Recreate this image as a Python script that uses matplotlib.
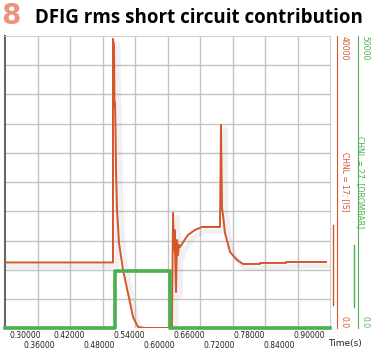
import matplotlib
matplotlib.use('Agg')
import matplotlib.pyplot as plt
import matplotlib.patheffects as pe
import numpy as np

# time axis (s)
x_ticks_top = [0.30, 0.42, 0.54, 0.66, 0.78, 0.90]
x_ticks_bot = [0.36, 0.48, 0.60, 0.72, 0.84]

# CHNL = 17: [IS]  (rms short circuit current)
t_is = [0.2906, 0.5071, 0.5071, 0.5091, 0.5102, 0.5112, 0.5122, 0.5132, 0.5152,
        0.5192, 0.5272, 0.5372, 0.5473, 0.5573, 0.5713, 0.6175, 0.6255, 0.6275,
        0.6295, 0.6305, 0.6315, 0.6335, 0.6355, 0.6375, 0.6395, 0.6415, 0.6575,
        0.6716, 0.6856, 0.7217, 0.7237, 0.7257, 0.7277, 0.7317, 0.7418, 0.7558,
        0.7678, 0.8019, 0.8019, 0.8540, 0.8540, 0.9342]
i_s = [9026, 9026, 39600, 38770, 30150, 30900, 27170, 21670, 16200,
       11690, 7990, 4850, 1570, 205, 70, 70, 70, 15800,
       10730, 13470, 11000, 4990, 12100, 10050, 11420, 11150, 12790,
       13480, 13880, 13880, 27830, 16480, 15520, 13060, 10460, 9370,
       8820, 8820, 8960, 8960, 9090, 9090]

# CHNL = 27: [DROMBAR]  (crowbar)
t_cb = [0.2906, 0.5111, 0.5111, 0.6214, 0.6214, 0.9423]
crowbar = [0, 0, 9800, 9800, 0, 0]

orange = '#d4562a'
green = '#4caf50'
tickfont = 'Liberation Sans Narrow'

fig = plt.figure(figsize=(3.71, 3.52), dpi=100)
fig.patch.set_facecolor('white')
ax = fig.add_axes([0.0135, 0.0668, 0.876, 0.831])

xmin, xmax = 0.2906, 0.9423
ax.set_xlim(xmin, xmax)
ax.set_ylim(0, 10)
for gx in np.linspace(xmin, xmax, 11)[1:-1]:
    ax.axvline(gx, color='#c4c4c4', lw=1.0, zorder=0)
for gy in range(1, 10):
    ax.axhline(gy, color='#c4c4c4', lw=1.0, zorder=0)
ax.set_yticks([])
ax.set_xticks(x_ticks_top)
ax.set_xticklabels(['%.5f' % v for v in x_ticks_top], family=tickfont)
ax.set_xticks(x_ticks_bot, minor=True)
ax.set_xticklabels(['%.5f' % v for v in x_ticks_bot], minor=True, family=tickfont)
ax.tick_params(axis='x', which='major', length=0, pad=2, labelsize=5.5, labelcolor='#222222')
ax.tick_params(axis='x', which='minor', length=0, pad=9, labelsize=5.5, labelcolor='#222222')
ax.get_xticklabels()[0].set_ha('left')
for s in ['top', 'right']:
    ax.spines[s].set_color('#d0d0d0')
ax.spines['bottom'].set_visible(False)
ax.spines['left'].set_color('#666666')
ax.spines['left'].set_linewidth(1.5)

shadow = [pe.SimpleLineShadow(offset=(3, -3), shadow_color='#888888', alpha=0.12, linewidth=3.5),
          pe.Normal()]

ax2 = ax.twinx()
ax2.set_ylim(0, 40000)
ax2.plot(t_is, i_s, color=orange, lw=1.4, path_effects=shadow, zorder=3)
ax2.spines['right'].set_position(('axes', 1.02))
ax2.spines['right'].set_color(orange)
for s in ['top', 'left', 'bottom']:
    ax2.spines[s].set_visible(False)
ax2.set_yticks([0, 40000])
ax2.set_yticklabels(['0.0', '40000'], rotation=-90, family=tickfont)
ax2.get_yticklabels()[0].set_va('bottom')
ax2.get_yticklabels()[1].set_va('top')
ax2.tick_params(axis='y', length=0, pad=2, labelsize=5.5, labelcolor=orange)
ax2.set_ylabel('CHNL = 17: [IS]', rotation=-90, color=orange, fontsize=5.5,
               labelpad=1, family=tickfont)
# current-value cursor bar
ax2.plot([1.009, 1.009], [0.08, 0.354], transform=ax2.transAxes, color=orange,
         lw=1.0, clip_on=False)

ax3 = ax.twinx()
ax3.set_ylim(0, 50000)
ax3.plot(t_cb, crowbar, color=green, lw=2.6, zorder=4, clip_on=False)
ax3.spines['right'].set_position(('axes', 1.085))
ax3.spines['right'].set_color(green)
for s in ['top', 'left', 'bottom']:
    ax3.spines[s].set_visible(False)
ax3.set_yticks([0, 50000])
ax3.set_yticklabels(['0.0', '50000'], rotation=-90, family=tickfont)
ax3.get_yticklabels()[0].set_va('bottom')
ax3.get_yticklabels()[1].set_va('top')
ax3.tick_params(axis='y', length=0, pad=2, labelsize=5.5, labelcolor=green)
ax3.set_ylabel('CHNL = 27: [DROMBAR]', rotation=-90, color=green, fontsize=5.5,
               labelpad=-3, family=tickfont)
ax3.plot([1.074, 1.074], [0.073, 0.285], transform=ax3.transAxes, color=green,
         lw=1.0, clip_on=False)

fig.text(0.975, 0.025, 'Time(s)', fontsize=6.5, ha='right', va='center', color='#222222')
fig.text(0.004, 0.955, '8', fontsize=20, fontweight='bold', color='#e8957a',
         ha='left', va='center')
fig.text(0.094, 0.95, 'DFIG rms short circuit contribution', fontsize=13.5,
         fontweight='bold', color='black', ha='left', va='center', family='Open Sans')

fig.savefig('out.png', dpi=100)
